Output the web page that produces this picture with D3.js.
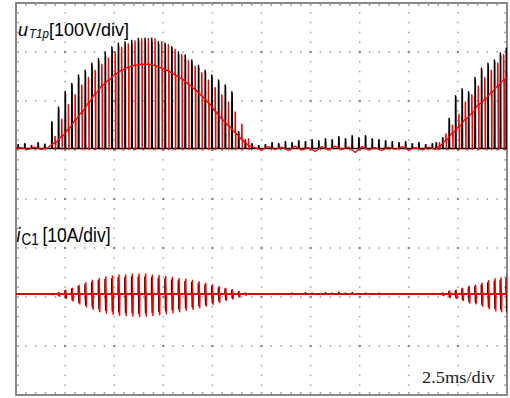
<!DOCTYPE html>
<html>
<head>
<meta charset="utf-8">
<script src="https://cdn.jsdelivr.net/npm/d3@7"></script>
<style>
  html, body { margin: 0; padding: 0; background: #fff; }
  svg { display: block; }
</style>
</head>
<body>
<div id="chart"></div>
<script>
// time axis in ms (2.5 ms/div, 10 div), pulses
const tPre = [0.10, 0.44, 0.78, 1.12, 1.46];
const tB1 = [1.82, 2.16, 2.50, 2.84, 3.18, 3.52, 3.86, 4.20, 4.54, 4.88, 5.21, 5.55, 5.89, 6.23, 6.57,
  6.91, 7.25, 7.59, 7.93, 8.27, 8.61, 8.95, 9.29, 9.63, 9.97, 10.31, 10.65, 10.99, 11.33, 11.67];
const tMid = [12.01, 12.35, 12.69, 13.03, 13.37, 13.71, 14.05, 14.39, 14.73, 15.07, 15.41, 15.75, 16.09, 16.43,
  16.77, 17.11, 17.45, 17.79, 18.13, 18.47, 18.81, 19.15, 19.49, 19.83, 20.17, 20.51, 20.85, 21.19];
const tB2 = [21.39, 21.72, 22.05, 22.38, 22.71, 23.04, 23.37, 23.70, 24.03, 24.36, 24.66, 24.96];

// u_T1p, volts
const uBlkPre = [8, 10, 6, 12, 9];
const uBlkB1 = [55, 85, 116, 133, 150, 160, 174, 184, 197, 208, 215, 218, 221, 225, 225,
  225, 218, 215, 208, 197, 191, 181, 170, 160, 150, 140, 130, 116, 35, 18];
const uBlkMid = [10, 6, 8, 12, 10, 14, 12, 16, 14, 18, 16, 20, 18, 24, 20, 26, 22, 26, 20, 18,
  16, 14, 12, 14, 10, 12, 8, 10];
const uBlkB2 = [12, 22, 62, 108, 122, 116, 145, 164, 174, 181, 195, 205];

const uRedPre = [2, -2, 3, -2, 2];
const uRedB1Mid = [12, 25, 40, 58, 75, 93, 112, 128, 140, 152, 160, 166, 170, 172, 172,
  169, 164, 158, 150, 142, 131, 120, 107, 93, 76, 60, 46, 32, 18, 6];
const uRedB1Pk = [25, 60, 90, 110, 130, 145, 160, 172, 185, 197, 207, 214, 220, 224, 225,
  224, 218, 212, 203, 192, 180, 168, 155, 140, 125, 110, 95, 75, 50, 20];
const uRedMid = [2, -3, 4, -2, 3, -4, 5, -3, 2, -6, 4, -3, 5, -2, 3, -8, 4, -3, 2, -4,
  3, -2, 4, -3, 2, -3, 3, -2];
const uRedB2Mid = [5, 17, 32, 45, 60, 72, 90, 100, 115, 128, 140, 150];
const uRedB2Pk = [12, 30, 48, 70, 95, 110, 128, 145, 160, 175, 192, 210];

// i_C1, amps (up / down excursions)
const iUpB1 = [0.1, 0.3, 0.8, 1.2, 1.8, 2.3, 2.8, 3.2, 3.5, 3.7, 3.9, 3.9, 4.1, 4.1, 4.1,
  3.9, 3.8, 3.6, 3.4, 3.2, 3.0, 2.8, 2.5, 2.2, 1.9, 1.5, 1.2, 0.9, 0.5, 0.2];
const iDnB1 = [0.1, 0.4, 0.9, 1.4, 2.0, 2.6, 3.1, 3.6, 3.9, 4.1, 4.3, 4.4, 4.5, 4.6, 4.5,
  4.4, 4.2, 4.0, 3.8, 3.6, 3.3, 3.1, 2.8, 2.5, 2.1, 1.7, 1.3, 1.0, 0.6, 0.2];
const iBlkMid = [0, 0, 0, 0, 0.1, 0, 0.2, 0.1, 0.3, 0.2, 0.1, 0.3, 0.2, 0.4, 0.2, 0.3, 0.1, 0.2,
  0.1, 0.2, 0, 0.1, 0, 0.1, 0, 0, 0, 0.1];
const iUpB2 = [0, 0.2, 0.6, 0.8, 1.2, 1.6, 1.8, 2.2, 2.7, 3.1, 3.3, 3.7];
const iDnB2 = [0, 0.3, 0.7, 0.9, 1.3, 1.8, 2.0, 2.5, 3.0, 3.4, 3.6, 4.1];

const W = 510, H = 398;
const svg = d3.select('#chart').append('svg').attr('width', W).attr('height', H);

const x = d3.scaleLinear().domain([0, 25]).range([16, 507]);
const yDiv = d3.scaleLinear().domain([-4, 4]).range([395, 3]);
const uOff = 1.03, iOff = -1.94;
const yU = v => yDiv(v / 100 + uOff);
const yI = a => yDiv(a / 10 + iOff);

// grid
const grid = svg.append('g');
const dot = (cx, cy, r, c) => grid.append('circle').attr('cx', cx).attr('cy', cy).attr('r', r).attr('fill', c);
for (let k = 1; k < 10; k++) {
  for (let j = 1; j < 40; j++) dot(x(k * 2.5), yDiv(-4 + j * 0.2), 0.9, '#a8a8a8');
}
for (let m = -3; m <= 3; m++) {
  for (let j = 1; j < 50; j++) dot(x(j * 0.5), yDiv(m), 0.9, '#a8a8a8');
}
for (let k = 1; k < 10; k++) for (let m = -3; m <= 3; m++) dot(x(k * 2.5), yDiv(m), 1.3, '#8c8c8c');
// border ticks
for (let j = 1; j < 50; j++) {
  dot(x(j * 0.5), yDiv(4) + 2, 0.9, '#999');
  dot(x(j * 0.5), yDiv(-4) - 2, 0.9, '#999');
}
for (let j = 1; j < 40; j++) {
  dot(x(0) + 2, yDiv(-4 + j * 0.2), 0.9, '#999');
  dot(x(25) - 2, yDiv(-4 + j * 0.2), 0.9, '#999');
}
svg.append('rect').attr('x', x(0)).attr('y', yDiv(4)).attr('width', x(25) - x(0)).attr('height', yDiv(-4) - yDiv(4))
  .attr('fill', 'none').attr('stroke', '#7d7d7d').attr('stroke-width', 1.8);

svg.append('clipPath').attr('id', 'clip').append('rect')
  .attr('x', x(0)).attr('y', yDiv(4)).attr('width', x(25) - x(0)).attr('height', yDiv(-4) - yDiv(4));
const plot = svg.append('g').attr('clip-path', 'url(#clip)');

const line = yf => d3.line().x(d => x(d[0])).y(d => yf(d[1]));

// u black: baseline with narrow pulses
function blackU() {
  const ts = tPre.concat(tB1, tMid, tB2), ps = uBlkPre.concat(uBlkB1, uBlkMid, uBlkB2);
  const pts = [[0, 0]];
  ts.forEach((t, i) => {
    const p = ps[i];
    pts.push([t - 0.01, 0], [t, p], [t + 0.02, p * 0.96], [t + 0.03, 0]);
  });
  pts.push([25.2, 0]);
  return pts;
}
// u red: mid level with full spikes up and down to zero
function redU() {
  const off = 0.16;
  const pts = [[0, 0]];
  tPre.forEach((t, i) => pts.push([t + off, uRedPre[i]]));
  const pulse = (t, m, p) => pts.push([t, m], [t + 0.005, p], [t + 0.02, p * 0.98], [t + 0.03, -2], [t + 0.045, 0], [t + 0.05, m]);
  tB1.forEach((t, i) => pulse(t + off, uRedB1Mid[i], uRedB1Pk[i]));
  tMid.forEach((t, i) => pts.push([t + off, uRedMid[i]]));
  tB2.forEach((t, i) => pulse(t + off, uRedB2Mid[i], uRedB2Pk[i]));
  pts.push([25.2, uRedB2Mid[uRedB2Mid.length - 1]]);
  return pts;
}
// i: bipolar spikes
function traceI(off, scale, withMid) {
  const pts = [[0, 0]];
  const pulse = (t, a, d) => pts.push([t, 0], [t + 0.003, a * scale], [t + 0.02, 0], [t + 0.035, -d * scale], [t + 0.05, 0]);
  tB1.forEach((t, i) => pulse(t + off, iUpB1[i], iDnB1[i]));
  if (withMid) tMid.forEach((t, i) => pts.push([t + off, 0], [t + off + 0.02, iBlkMid[i]], [t + off + 0.05, 0]));
  tB2.forEach((t, i) => pulse(t + off, iUpB2[i], iDnB2[i]));
  pts.push([25.2, 0]);
  return pts;
}

plot.append('path').datum(blackU()).attr('d', line(yU))
  .attr('fill', 'none').attr('stroke', '#000').attr('stroke-width', 1.4).attr('stroke-linejoin', 'round');
plot.append('path').datum(redU()).attr('d', line(yU))
  .attr('fill', 'none').attr('stroke', '#ff0000').attr('stroke-width', 1.3).attr('stroke-linejoin', 'round');
plot.append('path').datum(traceI(-0.01, 0.85, true)).attr('d', line(yI))
  .attr('fill', 'none').attr('stroke', '#000').attr('stroke-width', 1.4).attr('stroke-linejoin', 'round');
plot.append('path').datum(traceI(0.03, 1, false)).attr('d', line(yI))
  .attr('fill', 'none').attr('stroke', '#ff0000').attr('stroke-width', 1.5).attr('stroke-linejoin', 'round');

// labels
const lab = svg.append('g').attr('font-family', 'Liberation Sans, Arial, sans-serif').attr('fill', '#000');
const uL = lab.append('text').attr('transform', 'translate(18,35.5) scale(1,1.06)');
uL.append('tspan').attr('font-style', 'italic').attr('font-size', 18).text('u');
uL.append('tspan').attr('font-style', 'italic').attr('font-size', 11.5).attr('x', 11).attr('dy', 2).text('T1p');
uL.append('tspan').attr('font-size', 18).attr('x', 31).attr('dy', -2).text('[100V/div]');

const iL = lab.append('text').attr('transform', 'translate(16.5,242) scale(1,1.18)');
iL.append('tspan').attr('font-style', 'italic').attr('font-size', 17.5).text('i');
iL.append('tspan').attr('font-size', 13.5).attr('x', 5).attr('dy', 2.5).text('C1');
iL.append('tspan').attr('font-size', 17.5).attr('x', 26).attr('dy', -2.5).text('[10A/div]');

svg.append('text').attr('x', 422).attr('y', 383).attr('font-family', 'Liberation Serif, serif')
  .attr('font-size', 16.5).attr('fill', '#222').attr('textLength', 73).attr('lengthAdjust', 'spacingAndGlyphs')
  .text('2.5ms/div');
</script>
</body>
</html>
